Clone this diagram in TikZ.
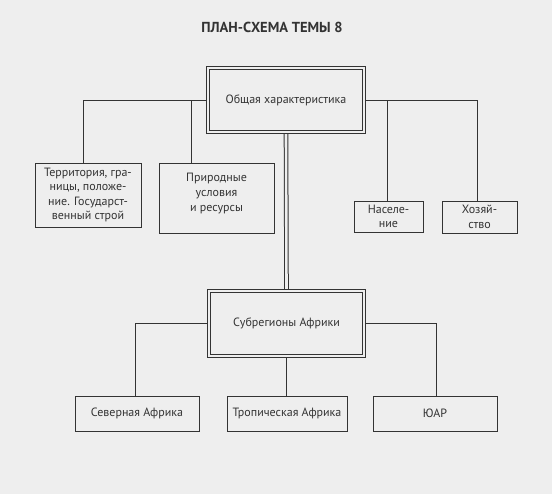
\documentclass[tikz,border=0pt]{standalone}
\usepackage{fontspec}
\setmainfont{PT Sans}
\usetikzlibrary{backgrounds}
\definecolor{bg}{HTML}{EEEEEE}
\definecolor{ink}{HTML}{333333}
\tikzset{
  box/.style={draw=ink, fill=bg, line width=0.9pt, align=center, inner sep=0pt,
    font=\fontsize{12}{14.5}\selectfont, text=ink},
  dbox/.style={box, double=bg, double distance=2.6pt, line width=0.9pt},
  link/.style={draw=ink, line width=0.9pt},
  dlink/.style={draw=ink, double=bg, double distance=2.6pt, line width=1pt},
}
\begin{document}
\begin{tikzpicture}[x=1pt,y=-1pt]
\useasboundingbox (0,0) rectangle (552,494);
\node[font=\bfseries\fontsize{14.5}{16}\selectfont, text=ink] (title) at (272,27) {ПЛАН-СХЕМА ТЕМЫ 8};
\node[dbox, minimum width=156pt, minimum height=64pt] (top) at (286,100) {Общая характеристика};
\node[box, minimum width=106pt, minimum height=64pt] (terr) at (88,195) {Территория, гра-\\ницы, положе-\\ние. Государст-\\венный строй};
\node[box, minimum width=115pt, minimum height=70pt, text depth=11pt, font=\fontsize{12}{15}\selectfont] (prir) at (216.5,198) {Природные\\условия\\и ресурсы};
\node[box, minimum width=69pt, minimum height=31pt] (nas) at (388.5,216.5) {Населе-\\ние};
\node[box, minimum width=75pt, minimum height=32pt] (hoz) at (479.5,217) {Хозяй-\\ство};
\node[dbox, minimum width=155pt, minimum height=65pt] (bot) at (286.5,323.5) {Субрегионы Африки};
\node[box, minimum width=124pt, minimum height=35pt] (sev) at (137,413.5) {Северная Африка};
\node[box, minimum width=120pt, minimum height=35pt] (trop) at (287,413.5) {Тропическая Африка};
\node[box, minimum width=124pt, minimum height=35pt] (yuar) at (435,413.5) {ЮАР};
\begin{pgfonlayer}{background}
\fill[bg] (0,0) rectangle (552,494);
\draw[link] (top.west) -| ([xshift=-5pt]terr.north);
\draw[link] (top.west) -| ([xshift=-25.5pt]prir.north);
\draw[link] (top.east) -| ([xshift=-1.5pt]nas.north);
\draw[link] (top.east) -| ([xshift=-2.5pt]hoz.north);
\draw[dlink] (top.south) -- (bot.north);
\draw[link] (bot.west) -| ([xshift=-2pt]sev.north);
\draw[link] (bot.east) -| ([xshift=1pt]yuar.north);
\draw[link] (bot.south) -- (bot.south |- trop.north);
\end{pgfonlayer}
\end{tikzpicture}
\end{document}
